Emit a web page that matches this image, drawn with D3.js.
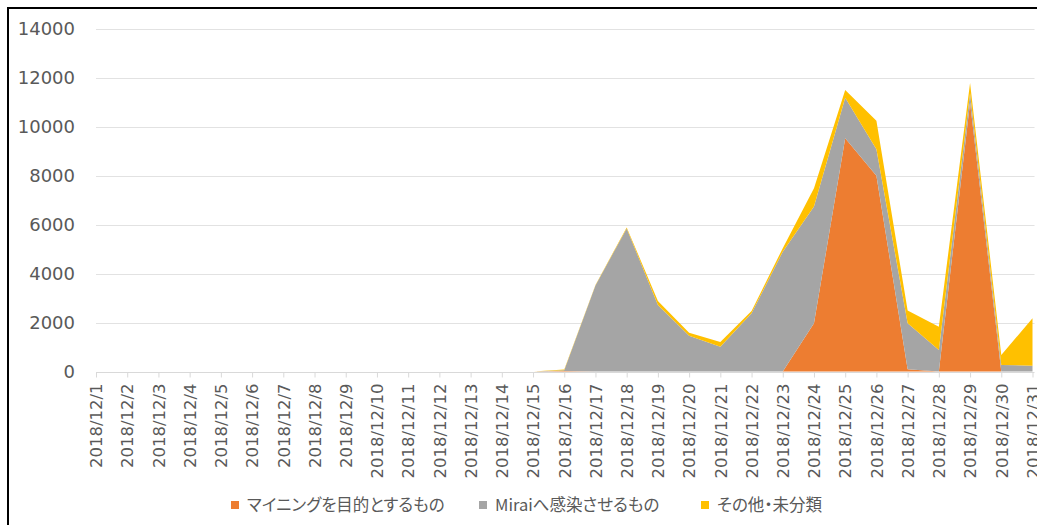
<!DOCTYPE html>
<html>
<head>
<meta charset="utf-8">
<script src="https://cdn.jsdelivr.net/npm/d3@7"></script>
<style>
  html, body { margin: 0; padding: 0; background: #fff; }
  svg { display: block; }
</style>
</head>
<body>
<svg id="chart" width="1037" height="525"></svg>
<script>
// Daily counts, December 2018
const dates = [
  "2018/12/1", "2018/12/2", "2018/12/3", "2018/12/4", "2018/12/5", "2018/12/6",
  "2018/12/7", "2018/12/8", "2018/12/9", "2018/12/10", "2018/12/11", "2018/12/12",
  "2018/12/13", "2018/12/14", "2018/12/15", "2018/12/16", "2018/12/17", "2018/12/18",
  "2018/12/19", "2018/12/20", "2018/12/21", "2018/12/22", "2018/12/23", "2018/12/24",
  "2018/12/25", "2018/12/26", "2018/12/27", "2018/12/28", "2018/12/29", "2018/12/30",
  "2018/12/31"
];
const seriesNames = ["マイニングを目的とするもの", "Miraiへ感染させるもの", "その他・未分類"];
const seriesColors = ["#ED7D31", "#A5A5A5", "#FFC000"];

const mining = [0, 0, 0, 0, 0, 0, 0, 0, 0, 0, 0, 0, 0, 0, 0,
  20, 0, 0, 0, 0, 0, 0, 0, 1970, 9530, 8000, 90, 0, 11000, 0, 0];
const mirai = [0, 0, 0, 0, 0, 0, 0, 0, 0, 0, 0, 0, 0, 0, 0,
  30, 3520, 5850, 2720, 1460, 1010, 2380, 4900, 4770, 1660, 1080, 1880, 880, 370, 270, 240];
const other = [0, 0, 0, 0, 0, 0, 0, 0, 0, 0, 0, 0, 0, 0, 0,
  30, 20, 40, 160, 120, 200, 90, 140, 750, 320, 1170, 520, 950, 420, 400, 1940];

const yTicks = [0, 2000, 4000, 6000, 8000, 10000, 12000, 14000];

const svg = d3.select("#chart");
const font = "'DejaVu Sans', 'Noto Sans CJK JP', sans-serif";
const textColor = "#595959";

const plotLeft = 96, plotRight = 1032.5, plotTop = 29, plotBottom = 371.5;

const x = d3.scalePoint().domain(dates).range([plotLeft, plotRight]);
const y = d3.scaleLinear().domain([0, 14000]).range([plotBottom, plotTop]);

// gridlines
svg.append("g")
  .selectAll("line")
  .data(yTicks.filter(d => d > 0))
  .join("line")
  .attr("x1", plotLeft).attr("x2", plotRight + 2)
  .attr("y1", d => Math.round(y(d)) + 0.5).attr("y2", d => Math.round(y(d)) + 0.5)
  .attr("stroke", "#e2e2e2").attr("stroke-width", 1.2);

// stacked areas
const rows = dates.map((d, i) => ({ date: d, s0: mining[i], s1: mirai[i], s2: other[i] }));
const stack = d3.stack().keys(["s0", "s1", "s2"]);
const layers = stack(rows);
const area = d3.area()
  .x(d => x(d.data.date))
  .y0(d => y(d[0]))
  .y1(d => y(d[1]));

svg.append("g")
  .selectAll("path")
  .data(layers)
  .join("path")
  .attr("d", area)
  .attr("fill", (d, i) => seriesColors[i]);

// x axis
const xAxis = d3.axisBottom(x).tickSize(5).tickPadding(6);
const gx = svg.append("g").attr("transform", `translate(0,${Math.round(plotBottom) + 0.5})`).call(xAxis);
gx.select(".domain").attr("stroke", "#d9d9d9").attr("d", `M${plotLeft},0H${plotRight + 2}`);
gx.selectAll(".tick line").attr("stroke", "#d9d9d9");
gx.selectAll(".tick text")
  .attr("fill", textColor)
  .style("font-family", font)
  .style("font-size", "16.5px")
  .attr("transform", "rotate(-90)")
  .attr("text-anchor", "end")
  .attr("x", -11)
  .attr("y", 0)
  .attr("dy", "0.35em");

// y axis labels
const yAxis = d3.axisLeft(y).tickValues(yTicks).tickSize(0).tickPadding(21).tickFormat(d3.format("d"));
const gy = svg.append("g").attr("transform", `translate(${plotLeft},0)`).call(yAxis);
gy.select(".domain").remove();
gy.selectAll(".tick text")
  .attr("fill", textColor)
  .style("font-family", font)
  .style("font-size", "18px");

// legend
const legendX = [231, 479, 701];
const legend = svg.append("g").selectAll("g")
  .data(seriesNames)
  .join("g")
  .attr("transform", (d, i) => `translate(${legendX[i]},505)`);
legend.append("rect")
  .attr("x", 0).attr("y", -4).attr("width", 8).attr("height", 8)
  .attr("fill", (d, i) => seriesColors[i]);
legend.append("text")
  .attr("x", 16).attr("y", 0).attr("dy", "0.36em")
  .attr("fill", textColor)
  .style("font-family", "'Noto Sans CJK JP', sans-serif")
  .style("font-size", "16.5px")
  .style("font-feature-settings", "'palt'")
  .text(d => d);

// outer frame
svg.append("rect")
  .attr("x", 8).attr("y", 8).attr("width", 1100).attr("height", 600)
  .attr("fill", "none").attr("stroke", "#000").attr("stroke-width", 2);
</script>
</body>
</html>
